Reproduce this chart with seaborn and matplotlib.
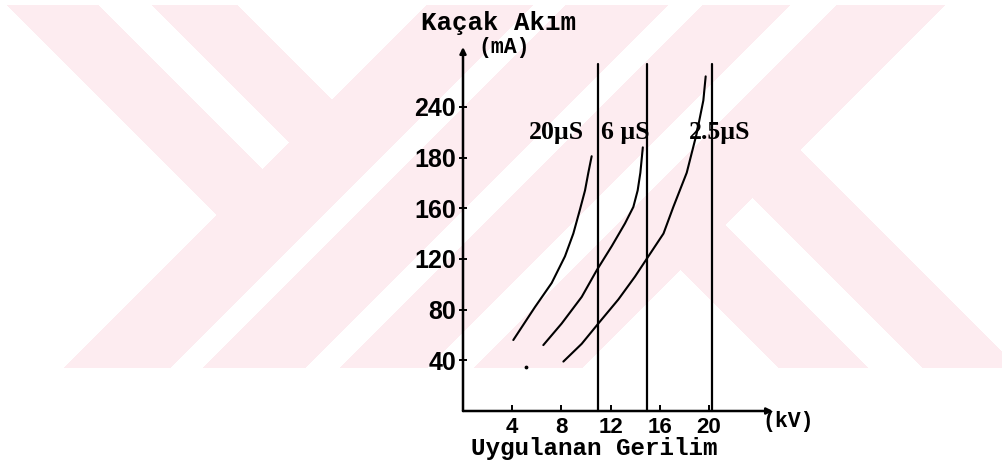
import numpy as np
import pandas as pd
import matplotlib
matplotlib.use('Agg')
import matplotlib.pyplot as plt
import seaborn as sns

# curves (kV, mA)
kv_20 = [4.09, 5.85, 7.21, 8.29, 8.97, 9.51, 9.92, 10.19, 10.46]
ma_20 = [56, 82, 101, 122, 140, 159, 174, 188, 201]
kv_6 = [6.53, 8.02, 9.65, 10.87, 12.09, 13.17, 13.85, 14.2, 14.42, 14.62]
ma_6 = [52, 69, 90, 111, 130, 148, 161, 174, 188, 208]
kv_25 = [8.16, 9.65, 11.0, 12.63, 13.98, 15.07, 16.3, 17.1, 18.19, 19.0, 19.54, 19.73]
ma_25 = [39, 53, 69, 88, 106, 122, 140, 161, 188, 219, 245, 264]
pulse_names = ['20µS', '6 µS', '2.5µS']

limit_kv = [10.95, 14.93, 20.22]
limit_top = 274
stray_kv = [5.1]
stray_ma = [34.5]

x_ticks = [4, 8, 12, 16, 20]
y_ticks = [40, 80, 120, 160, 200, 240]
y_tick_labels = ['40', '80', '120', '160', '180', '240']

df = pd.concat([
    pd.DataFrame({'kV': kv_20, 'mA': ma_20, 'pulse': pulse_names[0]}),
    pd.DataFrame({'kV': kv_6, 'mA': ma_6, 'pulse': pulse_names[1]}),
    pd.DataFrame({'kV': kv_25, 'mA': ma_25, 'pulse': pulse_names[2]}),
])

sns.set_style('white')
W, H = 1003, 472
fig = plt.figure(figsize=(W / 100, H / 100), dpi=100)

# pale watermark behind the chart
bg = fig.add_axes([0, 0, 1, 1])
yy, xx = np.mgrid[0:H, 0:W] + 0.5
s = xx + yy
d = xx - yy
mask = np.zeros((H, W), bool)
for a, b in [(432, 538), (571, 673), (708, 795), (842, 950)]:
    mask |= (s >= a) & (s <= b)
for a, b in [(2, 93), (147, 232)]:
    mask |= (d >= a) & (d <= b) & (s <= 432)
for a, b in [(411, 500), (555, 650)]:
    mask |= (d >= a) & (d <= b) & (s >= 950)
mask &= (yy >= 5) & (yy <= 368)
img = np.ones((H, W, 4))
img[..., :3] = np.array([253, 236, 240]) / 255
img[..., 3] = mask.astype(float)
bg.imshow(img, extent=(0, W, H, 0), interpolation='nearest')
bg.set_xlim(0, W)
bg.set_ylim(H, 0)
bg.axis('off')

x0, y0 = 463, 411
px_kv, px_ma = 12.3, 50.7 / 40
xmax = (773 - x0) / px_kv
ymax = (y0 - 47) / px_ma
ax = fig.add_axes([x0 / W, (H - y0) / H, (773 - x0) / W, (y0 - 47) / H])
ax.set_facecolor('none')

sns.lineplot(data=df, x='kV', y='mA', hue='pulse', estimator=None,
             palette={n: 'black' for n in pulse_names}, linewidth=1.5,
             legend=False, ax=ax)
for v in limit_kv:
    ax.plot([v, v], [0, limit_top], color='black', lw=1.6, clip_on=False)
ax.scatter(stray_kv, stray_ma, s=3, color='black')

ax.set_xlim(0, xmax)
ax.set_ylim(0, ymax)
for sp in ax.spines.values():
    sp.set_visible(False)
arrow = dict(arrowstyle='-|>', color='black', lw=1.8, mutation_scale=9,
             shrinkA=0, shrinkB=0)
ax.annotate('', xy=(0, ymax), xytext=(0, 0), arrowprops=arrow, annotation_clip=False)
ax.annotate('', xy=(xmax, 0), xytext=(0, 0), arrowprops=arrow, annotation_clip=False)

ax.set_yticks(y_ticks)
ax.set_yticklabels(y_tick_labels, fontdict=dict(family='Liberation Sans', weight='bold', size=18))
ax.set_xticks(x_ticks)
ax.set_xticklabels([str(t) for t in x_ticks], fontdict=dict(family='Liberation Sans', weight='bold', size=16))
ax.tick_params(axis='y', direction='inout', length=6, width=1.4, pad=2, left=True,
               color='black', labelcolor='black')
ax.tick_params(axis='x', direction='in', length=4, width=1.4, pad=4, bottom=True,
               color='black', labelcolor='black')
ax.set_xlabel('')
ax.set_ylabel('')

mono = dict(family='Liberation Mono', weight='bold', color='black')
ax.text(2.85, 300.5, 'Kaçak Akım', ha='center', va='baseline', size=18.5, clip_on=False, **mono)
ax.text(3.37, 282.5, '(mA)', ha='center', va='baseline', size=15.5, clip_on=False, **mono)
ax.text(10.7, -35, 'Uygulanan Gerilim', ha='center', va='baseline', size=17.5, clip_on=False, **mono)
ax.text(26.4, -8.5, '(kV)', ha='center', va='center', size=15.5, clip_on=False, **mono)

serif = dict(family='Liberation Serif', weight='bold', size=18.5, color='black',
             ha='center', va='center', clip_on=False)
ax.text(7.56, 219.5, pulse_names[0], **serif)
ax.text(13.17, 219.5, pulse_names[1], **serif)
ax.text(20.9, 219.5, pulse_names[2], **serif)

fig.savefig('out.png', dpi=100)
